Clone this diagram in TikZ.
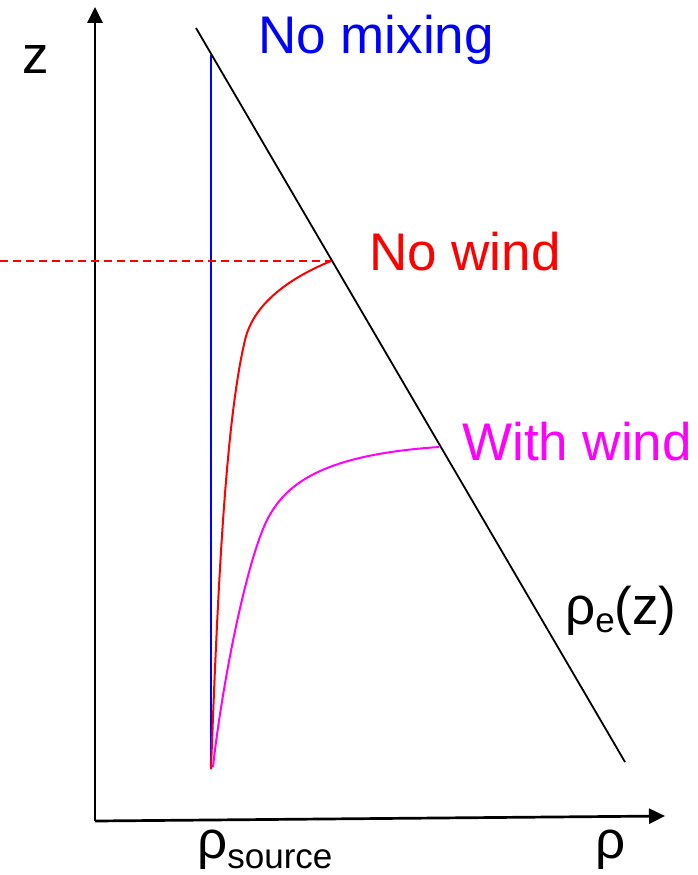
\documentclass[tikz,border=0pt]{standalone}
\usepackage{fontspec}
\setmainfont{Liberation Sans}
\usetikzlibrary{arrows.meta}
\definecolor{pblue}{RGB}{0,0,255}
\definecolor{pred}{RGB}{255,0,0}
\definecolor{pmag}{RGB}{255,0,255}
\tikzset{
  axis/.style={line width=2.7pt, -{Triangle[length=16pt,width=15pt]}},
  lbl/.style={anchor=base west, inner sep=0pt, font=\fontsize{53}{60}\selectfont},
  curve/.style={line width=2pt, line join=round},
}
\newcommand{\subtxt}[2]{\raisebox{-#1pt}{\fontsize{35}{40}\selectfont #2}}
\begin{document}
\begin{tikzpicture}[x=1pt,y=-1pt]
\useasboundingbox (0,0) rectangle (698,875);
% axes
\coordinate (O) at (95,821);
\coordinate (ztip) at (95,7);
\coordinate (rtip) at (665,816);
\draw[axis] (O) -- (ztip);
\draw[axis] (O) -- (rtip);
% environment density line
\coordinate (e1) at (196,28);
\coordinate (e2) at (625,762);
\draw[line width=1.8pt] (e1) -- (e2);
% no mixing
\coordinate (b1) at (211,55);
\coordinate (b2) at (211,769);
\draw[pblue, line width=2pt] (b2) -- (b1);
% dashed level
\coordinate (d0) at (0,261);
\coordinate (d1) at (331,261);
\draw[pred, line width=1.8pt, dash pattern=on 8pt off 5pt] (d0) -- (d1);
% no wind curve
\coordinate (r0) at (211,769);
\coordinate (rm) at (245,340);
\draw[pred, curve] (r0) .. controls (218,580) and (226,420) .. (rm)
  .. controls (253,306) and (285,280) .. (d1);
% with wind curve
\coordinate (m0) at (213,767);
\coordinate (mm) at (267,520);
\coordinate (m1) at (439,447);
\draw[pmag, curve] (m0) .. controls (221,692) and (245,565) .. (mm)
  .. controls (285,485) and (320,455) .. (m1);
% labels
\node[lbl, text=pblue] (tmix) at (258,53) {No mixing};
\node[lbl, text=pred] (twind) at (369,270) {No wind};
\node[lbl, text=pmag] (twith) at (462,460) {With wind};
\node[lbl] (tz) at (22,74) {z};
\node[lbl] (trhoe) at (565,624) {ρ\subtxt{8}{e}(z)};
\node[lbl] (trhos) at (197,858) {ρ\subtxt{10}{source}};
\node[lbl] (trho) at (595,858) {ρ};
\end{tikzpicture}
\end{document}
